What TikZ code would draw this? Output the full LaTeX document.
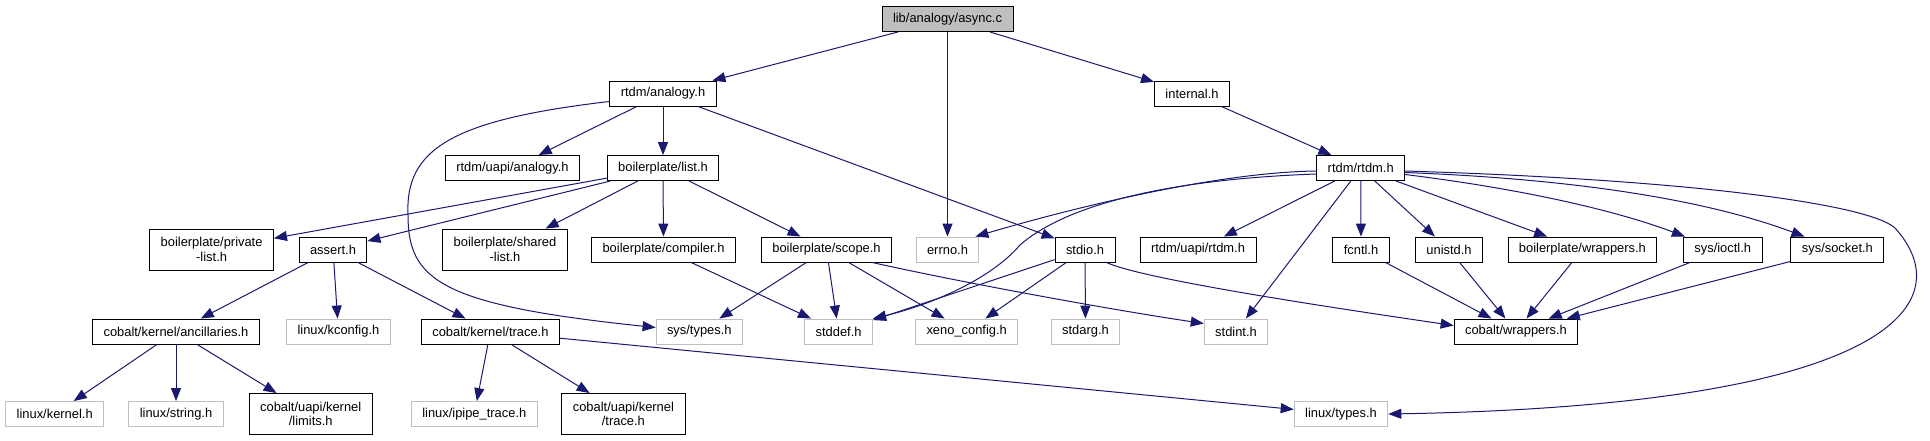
\documentclass[tikz,border=0pt]{standalone}
\usepackage{fontspec}
\setmainfont{Liberation Sans}
\usetikzlibrary{arrows.meta, calc}
\definecolor{edgeblue}{RGB}{25,25,112}
\definecolor{undoc}{RGB}{191,191,191}
\definecolor{rootfill}{RGB}{191,191,191}

\begin{document}
\begin{tikzpicture}[
    x=1pt, y=-1pt,
    file/.style={draw=black, line width=0.9pt, fill=white, inner xsep=11pt, inner ysep=3pt,
      minimum height=25pt, align=center, font=\fontsize{12.9}{14.5}\selectfont},
    sysfile/.style={file, draw=undoc},
    rootfile/.style={file, fill=rootfill},
    twoline/.style={minimum height=41pt},
    dep/.style={-{Triangle[length=13pt, width=10pt]}, edgeblue, line width=1pt},
]

\useasboundingbox (0,0) rectangle (1930,440);

% ===== Rows 0-2 =====
\node[rootfile] (async) at (947.5, 19) {lib/analogy/async.c};
\node[file] (analogy) at (663, 93.5) {rtdm/analogy.h};
\node[file] (internal) at (1192, 93.5) {internal.h};
\node[file] (uapianalogy) at (512.5, 168) {rtdm/uapi/analogy.h};
\node[file] (list) at (663, 168) {boilerplate/list.h};
\node[file] (rtdm) at (1360.7, 168) {rtdm/rtdm.h};

% ===== Row 3 =====
\node[file, twoline] (privlist) at (211.6, 249.5) {boilerplate/private\\-list.h};
\node[file] (assert) at (333, 249.5) {assert.h};
\node[file, twoline] (sharedlist) at (505, 249.5) {boilerplate/shared\\-list.h};
\node[file] (compiler) at (663.5, 249.5) {boilerplate/compiler.h};
\node[file] (scope) at (826.5, 249.5) {boilerplate/scope.h};
\node[sysfile] (errno) at (947.5, 249.5) {errno.h};
\node[file] (stdio) at (1085, 249.5) {stdio.h};
\node[file] (uapirtdm) at (1198, 249.5) {rtdm/uapi/rtdm.h};
\node[file] (fcntl) at (1361, 249.5) {fcntl.h};
\node[file] (unistd) at (1449, 249.5) {unistd.h};
\node[file] (bpwrappers) at (1582.4, 249.5) {boilerplate/wrappers.h};
\node[file] (ioctl) at (1722.7, 249.5) {sys/ioctl.h};
\node[file] (socket) at (1837.4, 249.5) {sys/socket.h};

% ===== Row 4 =====
\node[file] (ancill) at (176, 331.5) {cobalt/kernel/ancillaries.h};
\node[sysfile] (kconfig) at (338.4, 331.5) {linux/kconfig.h};
\node[file] (ktrace) at (490.4, 331.5) {cobalt/kernel/trace.h};
\node[sysfile] (systypes) at (699.3, 331.5) {sys/types.h};
\node[sysfile] (stddef) at (838.6, 331.5) {stddef.h};
\node[sysfile] (xenocfg) at (966.7, 331.5) {xeno\_config.h};
\node[sysfile] (stdarg) at (1085.5, 331.5) {stdarg.h};
\node[sysfile] (stdint) at (1236, 331.5) {stdint.h};
\node[file] (cwrappers) at (1516, 331.5) {cobalt/wrappers.h};

% ===== Row 5 =====
\node[sysfile] (lkernel) at (54.7, 414) {linux/kernel.h};
\node[sysfile] (lstring) at (176, 414) {linux/string.h};
\node[file, twoline] (limits) at (310.7, 414) {cobalt/uapi/kernel\\/limits.h};
\node[sysfile] (ipipe) at (474.3, 414) {linux/ipipe\_trace.h};
\node[file, twoline] (utrace) at (623.4, 414) {cobalt/uapi/kernel\\/trace.h};
\node[sysfile] (ltypes) at (1341, 414) {linux/types.h};

% ===== Straight includes =====
\foreach \src/\dst in {async/analogy, async/errno, async/internal, internal/rtdm,
    analogy/uapianalogy, analogy/list, analogy/stdio,
    list/privlist, list/assert, list/sharedlist, list/compiler, list/scope,
    rtdm/uapirtdm, rtdm/stdint, rtdm/fcntl, rtdm/unistd, rtdm/bpwrappers,
    scope/systypes, scope/stddef, scope/xenocfg, compiler/stddef,
    stdio/stddef, stdio/xenocfg, stdio/stdarg,
    assert/ancill, assert/kconfig, assert/ktrace,
    ancill/lkernel, ancill/lstring, ancill/limits,
    ktrace/ipipe, ktrace/utrace, ktrace/ltypes,
    fcntl/cwrappers, unistd/cwrappers, bpwrappers/cwrappers,
    ioctl/cwrappers, socket/cwrappers}
  \draw[dep] (\src) -- (\dst);

% ===== Curved includes =====
\draw[dep] ([yshift=-8pt]analogy.west) .. controls (450,120) and (405,150) .. (408,215)
  .. controls (408,280) and (440,305) .. ([yshift=4pt]systypes.west);
\draw[dep] ([xshift=-20pt]scope.south east) .. controls (950,280) and (1100,308)
  .. ([yshift=8pt]stdint.west);
\draw[dep] ([xshift=-9pt]stdio.south east) .. controls (1140,278) and (1300,303)
  .. ([yshift=6pt]cwrappers.west);

% rtdm.h, left side
\draw[dep] ([yshift=-3pt]rtdm.west) .. controls (1230,172) and (1100,200)
  .. ([xshift=-4pt]errno.north east);
\draw[dep] ([yshift=-6pt]rtdm.west) .. controls (1150,180) and (1060,210) .. (1020,245)
  .. controls (990,280) and (930,305) .. (stddef.north east);

% rtdm.h, right side
\draw[dep] ([yshift=-6.5pt]rtdm.east) .. controls (1530,190) and (1620,212)
  .. ([xshift=2pt]ioctl.north west);
\draw[dep] ([yshift=-4.5pt]rtdm.east) .. controls (1600,180) and (1720,205)
  .. ([xshift=14pt]socket.north west);
\draw[dep] ([yshift=-3pt]rtdm.east) .. controls (1700,180) and (1870,205) .. (1895,228)
  .. controls (1960,300) and (1900,405) .. (ltypes.east);

\end{tikzpicture}
\end{document}
